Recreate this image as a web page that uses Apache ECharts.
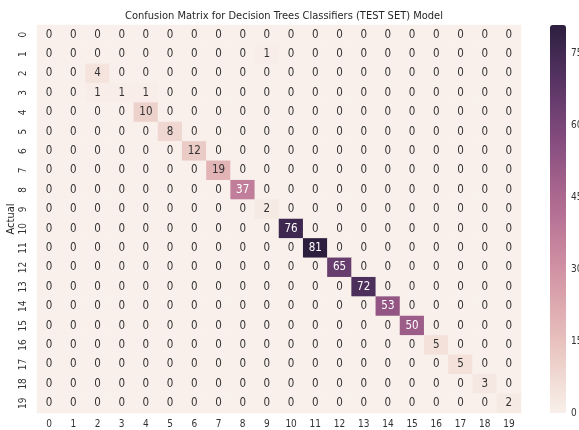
<!DOCTYPE html>
<html>
<head>
<meta charset="utf-8">
<script src="https://cdn.jsdelivr.net/npm/echarts@6/dist/echarts.min.js"></script>
<style>html,body{margin:0;padding:0;background:#fff;}#c{width:579px;height:430px;}</style>
</head>
<body>
<div id="c"></div>
<script>
// Class labels (both axes)
const classes = ['0','1','2','3','4','5','6','7','8','9','10','11','12','13','14','15','16','17','18','19'];
// Rows = actual class, columns = predicted class
const row0  = [0,0,0,0,0,0,0,0,0,0,0,0,0,0,0,0,0,0,0,0];
const row1  = [0,0,0,0,0,0,0,0,0,1,0,0,0,0,0,0,0,0,0,0];
const row2  = [0,0,4,0,0,0,0,0,0,0,0,0,0,0,0,0,0,0,0,0];
const row3  = [0,0,1,1,1,0,0,0,0,0,0,0,0,0,0,0,0,0,0,0];
const row4  = [0,0,0,0,10,0,0,0,0,0,0,0,0,0,0,0,0,0,0,0];
const row5  = [0,0,0,0,0,8,0,0,0,0,0,0,0,0,0,0,0,0,0,0];
const row6  = [0,0,0,0,0,0,12,0,0,0,0,0,0,0,0,0,0,0,0,0];
const row7  = [0,0,0,0,0,0,0,19,0,0,0,0,0,0,0,0,0,0,0,0];
const row8  = [0,0,0,0,0,0,0,0,37,0,0,0,0,0,0,0,0,0,0,0];
const row9  = [0,0,0,0,0,0,0,0,0,2,0,0,0,0,0,0,0,0,0,0];
const row10 = [0,0,0,0,0,0,0,0,0,0,76,0,0,0,0,0,0,0,0,0];
const row11 = [0,0,0,0,0,0,0,0,0,0,0,81,0,0,0,0,0,0,0,0];
const row12 = [0,0,0,0,0,0,0,0,0,0,0,0,65,0,0,0,0,0,0,0];
const row13 = [0,0,0,0,0,0,0,0,0,0,0,0,0,72,0,0,0,0,0,0];
const row14 = [0,0,0,0,0,0,0,0,0,0,0,0,0,0,53,0,0,0,0,0];
const row15 = [0,0,0,0,0,0,0,0,0,0,0,0,0,0,0,50,0,0,0,0];
const row16 = [0,0,0,0,0,0,0,0,0,0,0,0,0,0,0,0,5,0,0,0];
const row17 = [0,0,0,0,0,0,0,0,0,0,0,0,0,0,0,0,0,5,0,0];
const row18 = [0,0,0,0,0,0,0,0,0,0,0,0,0,0,0,0,0,0,3,0];
const row19 = [0,0,0,0,0,0,0,0,0,0,0,0,0,0,0,0,0,0,0,2];
const matrix = [row0,row1,row2,row3,row4,row5,row6,row7,row8,row9,row10,row11,row12,row13,row14,row15,row16,row17,row18,row19];
// Colorbar ticks
const cbarTicks = [0,15,30,45,60,75];
const vMin = 0, vMax = 81;

// seaborn cubehelix_palette(light=.95, dark=.15) colormap
function cubehelix(x){
  const s=0, r=0.4, h=0.8, g=1.0;
  const xg = Math.pow(x,g);
  const a = h*xg*(1-xg)/2;
  const phi = 2*Math.PI*(s/3 + r*x);
  const c = Math.cos(phi), sn = Math.sin(phi);
  const R = xg + a*(-0.14861*c + 1.78277*sn);
  const G = xg + a*(-0.29227*c - 0.90649*sn);
  const B = xg + a*(1.97294*c);
  return [R,G,B].map(v=>Math.max(0,Math.min(1,v)));
}
function colAt(t){
  const x = 0.95 - (0.95-0.15)*t;
  return cubehelix(x);
}
function hex(rgb){ return '#'+rgb.map(v=>Math.round(v*255).toString(16).padStart(2,'0')).join(''); }
function lum(rgb){
  const lin = rgb.map(v=> v<=0.03928 ? v/12.92 : Math.pow((v+0.055)/1.055,2.4));
  return 0.2126*lin[0]+0.7152*lin[1]+0.0722*lin[2];
}
const stops = [];
for(let i=0;i<=40;i++){ stops.push(hex(colAt(i/40))); }

const data = [];
matrix.forEach((row, r) => {
  row.forEach((v, c) => {
    const rgb = colAt((v - vMin)/(vMax - vMin));
    data.push({value:[c, r, v], label:{color: lum(rgb) > 0.408 ? '#333333' : '#ffffff'}});
  });
});

const FONT = "'Liberation Sans Narrow', 'DejaVu Sans Condensed', 'Liberation Sans', Arial, sans-serif";
const chart = echarts.init(document.getElementById('c'), null, {renderer:'canvas'});
chart.setOption({
  animation:false,
  backgroundColor:'#ffffff',
  textStyle:{fontFamily:FONT},
  title:{
    text:'Confusion Matrix for Decision Trees Classifiers (TEST SET) Model',
    left:279, top:6, textAlign:'center',
    textStyle:{fontSize:11, fontWeight:'normal', color:'#262626', fontFamily:FONT}
  },
  grid:[
    {left:37, right:58, top:25, bottom:17, containLabel:false, outerBoundsMode:'none'},
    {left:550, width:16, top:25, bottom:17, containLabel:false, outerBoundsMode:'none'}
  ],
  xAxis:[
    {type:'category', data:classes, gridIndex:0, position:'bottom',
     axisLine:{show:false}, axisTick:{show:false}, splitLine:{show:false},
     axisLabel:{color:'#333333', fontSize:10, margin:6, fontFamily:FONT}},
    {type:'value', gridIndex:1, show:false, min:0, max:1}
  ],
  yAxis:[
    {type:'category', data:classes, inverse:true, gridIndex:0,
     name:'Actual', nameLocation:'middle', nameGap:20, nameRotate:90, nameMoveOverlap:false,
     nameTextStyle:{color:'#262626', fontSize:11, fontFamily:FONT},
     axisLine:{show:false}, axisTick:{show:false}, splitLine:{show:false},
     axisLabel:{color:'#333333', fontSize:10, rotate:90, margin:9, fontFamily:FONT}},
    {type:'value', gridIndex:1, position:'right', min:vMin, max:vMax, interval:15,
     axisLine:{show:false}, axisTick:{show:false}, splitLine:{show:false},
     axisLabel:{color:'#333333', fontSize:10, margin:5, fontFamily:FONT,
       formatter:function(v){ return cbarTicks.indexOf(v)>=0 ? String(v) : ''; }}}
  ],
  visualMap:{
    type:'continuous', min:vMin, max:vMax, seriesIndex:0,
    calculable:false, hoverLink:false, orient:'vertical',
    left:550, top:25, itemWidth:16, itemHeight:388, padding:0,
    text:null, showLabel:false,
    inRange:{color:stops}
  },
  series:[
    {type:'heatmap', xAxisIndex:0, yAxisIndex:0, data:data,
     label:{show:true, fontSize:11.5, fontFamily:FONT,
       formatter:function(p){ return String(p.value[2]); }},
     itemStyle:{borderWidth:0},
     emphasis:{disabled:true}},
    {type:'scatter', xAxisIndex:1, yAxisIndex:1, data:[], silent:true}
  ]
});
</script>
</body>
</html>
